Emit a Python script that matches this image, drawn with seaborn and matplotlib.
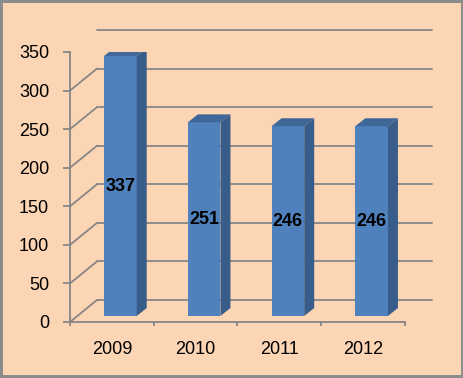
import matplotlib
matplotlib.use("Agg")
import matplotlib.pyplot as plt
import matplotlib.transforms as mtransforms
from matplotlib.patches import Polygon, Rectangle
import seaborn as sns
import pandas as pd

# ---- data ----
years = ["2009", "2010", "2011", "2012"]
values = [337, 251, 246, 246]
y_ticks = [0, 50, 100, 150, 200, 250, 300, 350]

# ---- style ----
BG = "#FCD5B4"
FRONT = "#4F81BD"
SIDE = "#385D8A"
TOP = "#3F6797"
GRID = "#868686"

sns.set_theme(style="white")
plt.rcParams['font.family'] = ['Liberation Sans', 'DejaVu Sans']

W, H = 464, 378
fig = plt.figure(figsize=(W / 100, H / 100), dpi=100)
fig.patch.set_facecolor(BG)

ax = fig.add_axes([70 / W, (H - 322) / H, 335 / W, 270 / H])
ax.set_facecolor("none")

df = pd.DataFrame({"year": years, "value": values})
sns.barplot(data=df, x="year", y="value", color=FRONT, width=0.39,
            saturation=1, ax=ax, zorder=3, linewidth=0)
ax.set_xlim(-0.5, 3.5)
ax.set_ylim(0, 350)

# depth offsets in pixels
DX, DY = 27, 22          # full depth (front -> back wall)
FX, FY = 8.5, 6          # bar front-face position
BX, BY = 10, 8           # bar depth

def off(dx, dy):
    return mtransforms.ScaledTranslation(dx / 100, dy / 100, fig.dpi_scale_trans)

# back wall gridlines
for v in y_ticks:
    ax.plot([-0.5, 3.5], [v, v], color=GRID, lw=1.3,
            transform=ax.transData + off(DX, DY), clip_on=False, zorder=1)

# left wall diagonals & floor right diagonal
T = ax.transData
for v in y_ticks:
    x0, y0 = T.transform((-0.5, v))
    ax.add_line(plt.Line2D([x0, x0 + DX], [y0, y0 + DY], color=GRID, lw=1.3,
                           transform=mtransforms.IdentityTransform(), zorder=1))
x0, y0 = T.transform((3.5, 0))
ax.add_line(plt.Line2D([x0, x0 + DX], [y0, y0 + DY], color=GRID, lw=1.3,
                       transform=mtransforms.IdentityTransform(), zorder=1))

# bars: shift front faces and add top/side faces
for p in ax.patches[:]:
    bx, by = p.get_x(), p.get_y()
    bw, bh = p.get_width(), p.get_height()
    p.set_transform(ax.transData + off(FX, FY))
    (lx, bot) = T.transform((bx, by))
    (rx, top) = T.transform((bx + bw, by + bh))
    lx += FX; rx += FX; bot += FY; top += FY
    top_face = Polygon([(lx, top), (rx, top), (rx + BX, top + BY), (lx + BX, top + BY)],
                       closed=True, facecolor=TOP, edgecolor="none",
                       transform=mtransforms.IdentityTransform(), zorder=3)
    side_face = Polygon([(rx, bot), (rx, top), (rx + BX, top + BY), (rx + BX, bot + BY)],
                        closed=True, facecolor=SIDE, edgecolor="none",
                        transform=mtransforms.IdentityTransform(), zorder=3)
    ax.add_artist(top_face)
    ax.add_artist(side_face)

# value labels
for i, v in enumerate(values):
    ax.text(i, v / 2, str(v), ha="center", va="center", fontsize=13,
            fontweight="bold", color="black",
            transform=ax.transData + off(FX, FY), zorder=5)

# axes styling
for s in ["top", "right"]:
    ax.spines[s].set_visible(False)
for s in ["left", "bottom"]:
    ax.spines[s].set_color(GRID)
    ax.spines[s].set_linewidth(1.3)
ax.set_yticks(y_ticks)
ax.set_yticklabels([str(t) for t in y_ticks])
ax.set_xticks(range(len(years)))
ax.set_xticklabels(years)
ax.set_xticks([-0.5, 0.5, 1.5, 2.5, 3.5], minor=True)
ax.tick_params(axis="y", which="major", length=5, width=1.3, color=GRID,
               pad=10, labelsize=13, labelcolor="black", left=True)
ax.tick_params(axis="x", which="major", length=0, pad=14, labelsize=13,
               labelcolor="black")
ax.tick_params(axis="x", which="minor", length=3, width=1.3, color=GRID,
               bottom=True)
ax.set_xlabel("")
ax.set_ylabel("")

# outer frame
fig.add_artist(Rectangle((0, 0), 1, 1, transform=fig.transFigure, fill=False,
                         edgecolor="#8C8C8C", linewidth=4.3))

fig.savefig("out.png", dpi=100, facecolor=BG)
